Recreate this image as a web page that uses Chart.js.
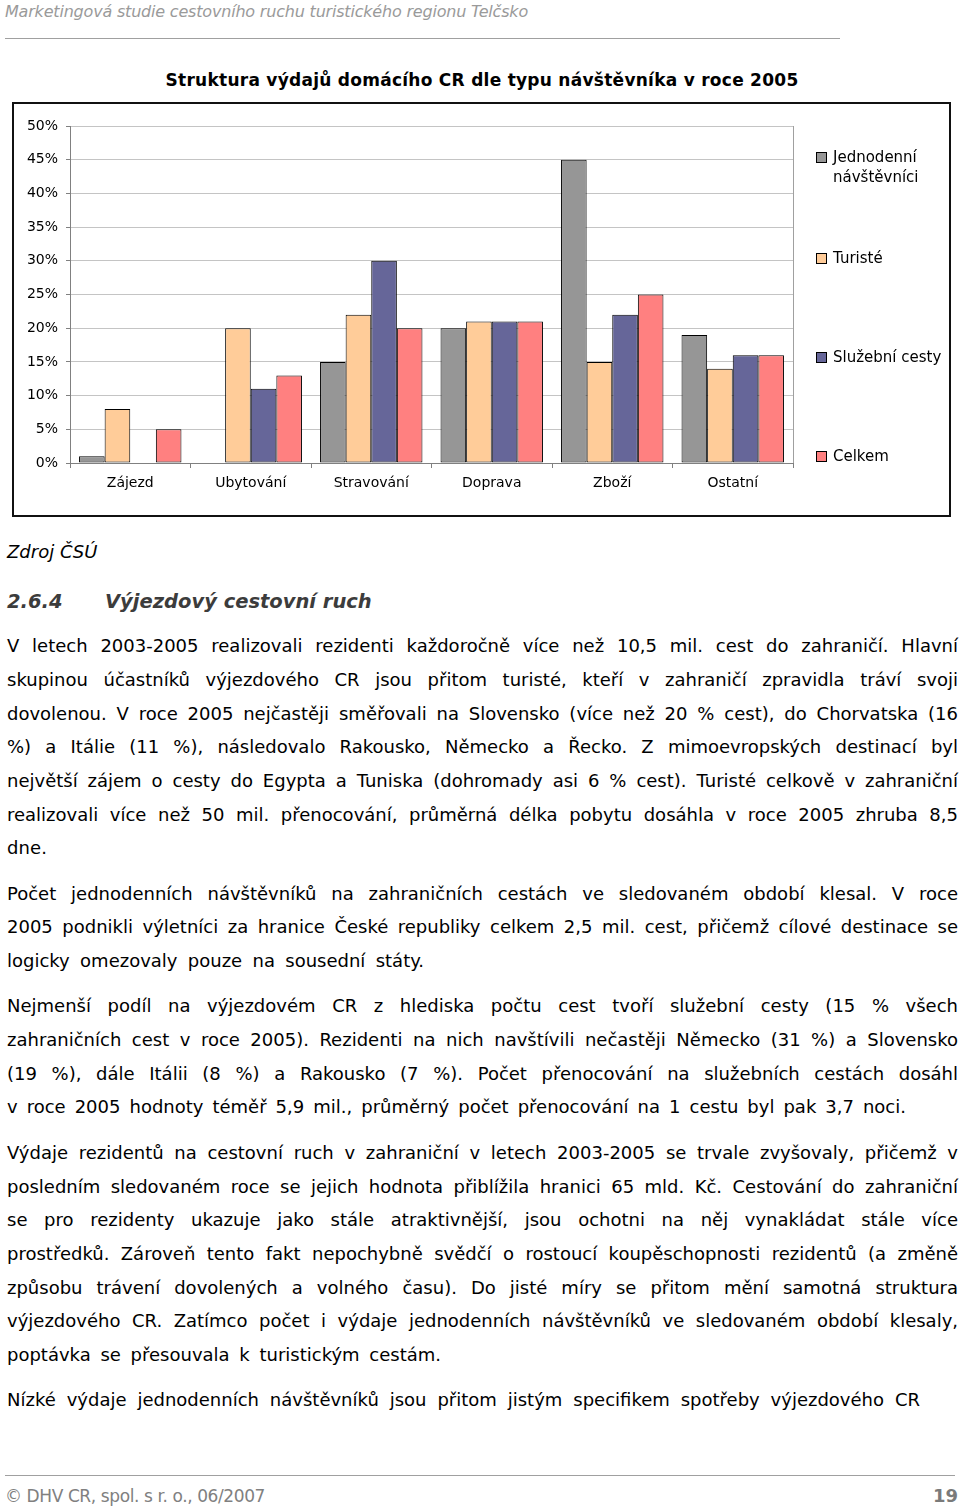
<!DOCTYPE html>
<html>
<head>
<meta charset="utf-8">
<script src="https://cdn.jsdelivr.net/npm/chart.js@4.4.0/dist/chart.umd.min.js"></script>
<style>
  body { margin:0; width:960px; height:1510px; background:#fff; position:relative; overflow:hidden; font-family:"DejaVu Sans", Verdana, sans-serif; }
  .abs { position:absolute; white-space:nowrap; }
  .hline { position:absolute; height:1px; background:#a0a0a0; }
  #frame { position:absolute; left:12px; top:102px; width:939px; height:415px; border:2px solid #111; box-sizing:border-box; }
  #frame canvas { position:absolute; left:0; top:0; }
  .leg { position:absolute; left:818px; font-size:15px; line-height:20px; color:#000; width:135px; white-space:normal; }
  .leg i { position:absolute; left:-2px; top:5px; width:9px; height:9px; border:1px solid #000; }
  .leg span { display:block; padding-left:15px; }
  .ln { position:absolute; left:7px; font-size:18px; line-height:23px; color:#000; white-space:nowrap; }
</style>
</head>
<body>

<div class="abs" id="hdr" style="left:5px; top:2px; font-size:16px; line-height:20px; font-style:italic; color:#9a9a9a;">Marketingová studie cestovního ruchu turistického regionu Telčsko</div>
<div class="hline" style="left:5px; top:38px; width:835px;"></div>

<div class="abs" id="ttl" style="left:0; top:69px; font-size:17px; line-height:22px; font-weight:bold; color:#000;">Struktura výdajů domácího CR dle typu návštěvníka v roce 2005</div>

<div id="frame"><canvas id="myChart" width="935" height="411"></canvas></div>
<div id="legend"></div>

<div class="abs" id="src" style="left:7px; top:540px; font-size:18px; line-height:23px; font-style:italic; color:#000;">Zdroj ČSÚ</div>
<div class="abs" style="left:7px; top:589px; font-size:19.5px; line-height:25px; font-weight:bold; font-style:italic; color:#3c3c3c;">2.6.4</div>
<div class="abs" style="left:105px; top:589px; font-size:19.5px; line-height:25px; font-weight:bold; font-style:italic; color:#3c3c3c;">Výjezdový cestovní ruch</div>

<div id="body"></div>

<div class="hline" style="left:5px; top:1475px; width:950px;"></div>
<div class="abs" id="foot" style="left:5px; top:1485px; font-size:17px; line-height:22px; color:#808080;">© DHV CR, spol. s r. o., 06/2007</div>
<div class="abs" style="right:2px; top:1485px; font-size:18px; line-height:22px; font-weight:bold; color:#7a7a7a;">19</div>

<script>
const categories = ['Zájezd', 'Ubytování', 'Stravování', 'Doprava', 'Zboží', 'Ostatní'];
const seriesNames = ['Jednodenní návštěvníci', 'Turisté', 'Služební cesty', 'Celkem'];
const seriesColors = ['#969696', '#FFCC99', '#666699', '#FF8080'];
const jednodenni = [1, null, 15, 20, 45, 19];
const turiste = [8, 20, 22, 21, 15, 14];
const sluzebni = [null, 11, 30, 21, 22, 16];
const celkem = [5, 13, 20, 21, 25, 16];
const yTicks = [0, 5, 10, 15, 20, 25, 30, 35, 40, 45, 50];

const bodyLines = [
  ['V letech 2003-2005 realizovali rezidenti každoročně více než 10,5 mil. cest do zahraničí. Hlavní', 646, 958],
  ['skupinou účastníků výjezdového CR jsou přitom turisté, kteří v zahraničí zpravidla tráví svoji', 680, 958],
  ['dovolenou. V roce 2005 nejčastěji směřovali na Slovensko (více než 20 % cest), do Chorvatska (16', 714, 958],
  ['%) a Itálie (11 %), následovalo Rakousko, Německo a Řecko. Z mimoevropských destinací byl', 747, 958],
  ['největší zájem o cesty do Egypta a Tuniska (dohromady asi 6 % cest). Turisté celkově v zahraniční', 781, 958],
  ['realizovali více než 50 mil. přenocování, průměrná délka pobytu dosáhla v roce 2005 zhruba 8,5', 815, 958],
  ['dne.', 848, 47],
  ['Počet jednodenních návštěvníků na zahraničních cestách ve sledovaném období klesal. V roce', 894, 958],
  ['2005 podnikli výletníci za hranice České republiky celkem 2,5 mil. cest, přičemž cílové destinace se', 927, 958],
  ['logicky omezovaly pouze na sousední státy.', 961, 424],
  ['Nejmenší podíl na výjezdovém CR z hlediska počtu cest tvoří služební cesty (15 % všech', 1006, 958],
  ['zahraničních cest v roce 2005). Rezidenti na nich navštívili nečastěji Německo (31 %) a Slovensko', 1040, 958],
  ['(19 %), dále Itálii (8 %) a Rakousko (7 %). Počet přenocování na služebních cestách dosáhl', 1074, 958],
  ['v roce 2005 hodnoty téměř 5,9 mil., průměrný počet přenocování na 1 cestu byl pak 3,7 noci.', 1107, 906],
  ['Výdaje rezidentů na cestovní ruch v zahraniční v letech 2003-2005 se trvale zvyšovaly, přičemž v', 1153, 958],
  ['posledním sledovaném roce se jejich hodnota přiblížila hranici 65 mld. Kč. Cestování do zahraniční', 1187, 958],
  ['se pro rezidenty ukazuje jako stále atraktivnější, jsou ochotni na něj vynakládat stále více', 1220, 958],
  ['prostředků. Zároveň tento fakt nepochybně svědčí o rostoucí koupěschopnosti rezidentů (a změně', 1254, 958],
  ['způsobu trávení dovolených a volného času). Do jisté míry se přitom mění samotná struktura', 1288, 958],
  ['výjezdového CR. Zatímco počet i výdaje jednodenních návštěvníků ve sledovaném období klesaly,', 1321, 958],
  ['poptávka se přesouvala k turistickým cestám.', 1355, 441],
  ['Nízké výdaje jednodenních návštěvníků jsou přitom jistým specifikem spotřeby výjezdového CR', 1400, 920]
];

// text helpers
function fitLetters(el, target){
  const w = el.getBoundingClientRect().width;
  el.style.letterSpacing = ((target - w) / el.textContent.length) + 'px';
}
function fitLine(el, target){
  const text = el.textContent;
  const gaps = (text.match(/ /g) || []).length;
  let diff = target - el.getBoundingClientRect().width;
  if (diff < 0 || gaps == 0) {
    el.style.letterSpacing = Math.max(diff / text.length, -1.2) + 'px';
    diff = target - el.getBoundingClientRect().width;
  }
  if (gaps) el.style.wordSpacing = (diff / gaps) + 'px';
}

const bodyDiv = document.querySelector('#body');
bodyLines.forEach(l => {
  const d = document.createElement('div');
  d.className = 'ln';
  d.style.top = (l[1] - 12) + 'px';
  d.textContent = l[0];
  bodyDiv.appendChild(d);
  fitLine(d, l[2] - 7);
});

fitLetters(document.querySelector('#hdr'), 523);
fitLetters(document.querySelector('#foot'), 260);
const ttl = document.querySelector('#ttl');
fitLetters(ttl, 633);
ttl.style.left = (482 - 633 / 2) + 'px';

// legend next to the chart
const legendTops = [147, 248, 347, 446];
const legend = document.querySelector('#legend');
seriesNames.forEach((name, i) => {
  const it = document.createElement('div');
  it.className = 'leg';
  it.style.top = legendTops[i] + 'px';
  it.innerHTML = '<i style="background:' + seriesColors[i] + '"></i><span>' + name + '</span>';
  legend.appendChild(it);
});

const plotBorder = {
  id: 'plotBorder',
  afterDraw(chart){
    const a = chart.chartArea, c = chart.ctx;
    c.save();
    c.strokeStyle = '#a0a0a0';
    c.lineWidth = 1;
    c.beginPath();
    c.moveTo(Math.round(a.right) + 0.5, a.top);
    c.lineTo(Math.round(a.right) + 0.5, a.bottom);
    c.stroke();
    c.restore();
  }
};

const tickFont = { family: 'DejaVu Sans', size: 14 };
const seriesData = [jednodenni, turiste, sluzebni, celkem];

const ctx = document.querySelector('#myChart');
const myChart = new Chart(ctx, {
  type: 'bar',
  data: {
    labels: categories,
    datasets: seriesNames.map((n, i) => ({
      label: n,
      data: seriesData[i],
      backgroundColor: seriesColors[i],
      borderColor: '#000',
      borderWidth: 1,
      borderSkipped: false,
      categoryPercentage: 0.85,
      barPercentage: 1.0
    }))
  },
  options: {
    responsive: false,
    animation: false,
    layout: { padding: { top: 22, right: 156, left: 0, bottom: 0 } },
    plugins: { legend: { display: false }, tooltip: { enabled: false } },
    scales: {
      x: {
        grid: { offset: true, drawOnChartArea: false, drawTicks: true, tickLength: 5, color: '#808080' },
        border: { color: '#808080' },
        ticks: { font: tickFont, color: '#000', padding: 7, maxRotation: 0, autoSkip: false },
        afterFit: s => { s.height = 52; }
      },
      y: {
        min: 0,
        max: 50,
        afterBuildTicks: s => { s.ticks = yTicks.map(v => ({ value: v })); },
        grid: { color: '#c4c4c4', tickLength: 4, tickColor: '#808080' },
        border: { color: '#808080' },
        ticks: { font: tickFont, color: '#000', padding: 8, callback: v => v + '%' },
        afterFit: s => { s.width = 56; }
      }
    }
  },
  plugins: [plotBorder]
});
</script>
</body>
</html>
